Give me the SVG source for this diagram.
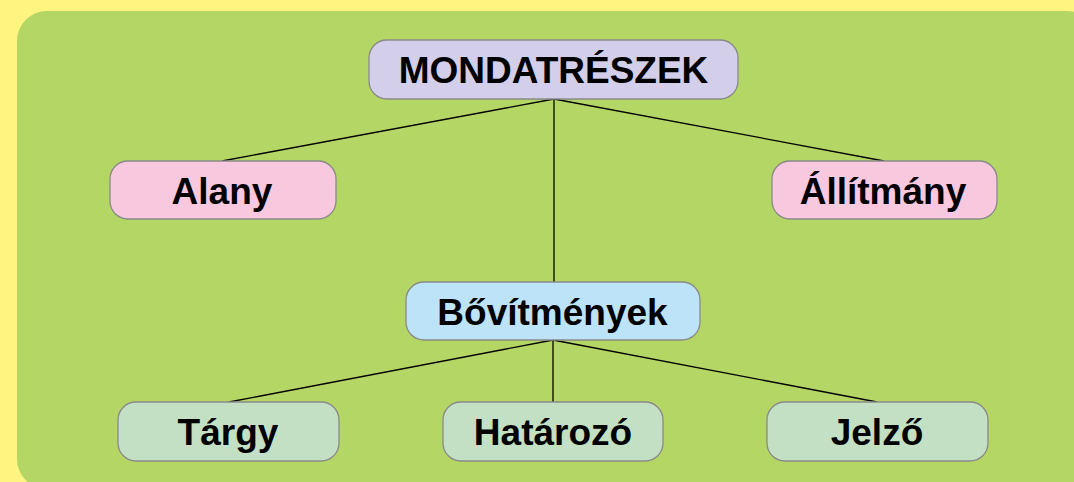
<svg xmlns="http://www.w3.org/2000/svg" width="1074" height="482" viewBox="0 0 1074 482">
<style>
.box{stroke:#8a8a8a;stroke-width:1.3}
.t{font-family:"Liberation Sans",Arial,sans-serif;font-weight:bold;font-size:37px;fill:#000;text-anchor:middle}
.c{stroke:#000;stroke-width:1.3;fill:none}
</style>
<rect x="0" y="0" width="1074" height="482" fill="#fff47f"/>
<rect x="17" y="11" width="1080" height="478" rx="30" ry="30" fill="#b4d665"/>
<g id="connectors">
<line class="c" x1="554" y1="99" x2="222" y2="161"/>
<line class="c" x1="554" y1="99" x2="884" y2="161"/>
<line class="c" x1="554" y1="99" x2="554" y2="282"/>
<line class="c" x1="553" y1="340" x2="229" y2="402"/>
<line class="c" x1="553" y1="340" x2="553" y2="402"/>
<line class="c" x1="553" y1="340" x2="877" y2="402"/>
</g>
<g id="mondatreszek">
<rect class="box" x="369" y="40" width="369" height="59" rx="18" fill="#d3cfea"/>
<text class="t" x="553.5" y="83">MONDATRÉSZEK</text>
</g>
<g id="alany">
<rect class="box" x="110" y="161" width="226" height="58" rx="18" fill="#f8c8df"/>
<text class="t" x="222" y="203.5">Alany</text>
</g>
<g id="allitmany">
<rect class="box" x="772" y="161" width="225" height="58" rx="18" fill="#f8c8df"/>
<text class="t" x="883" y="203.5">Állítmány</text>
</g>
<g id="bovitmenyek">
<rect class="box" x="406" y="282" width="294" height="58" rx="18" fill="#bde3f8"/>
<text class="t" x="552.5" y="324.5">Bővítmények</text>
</g>
<g id="targy">
<rect class="box" x="118" y="402" width="221" height="59" rx="18" fill="#c3e0c4"/>
<text class="t" x="228" y="445">Tárgy</text>
</g>
<g id="hatarozo">
<rect class="box" x="443" y="402" width="220" height="59" rx="18" fill="#c3e0c4"/>
<text class="t" x="553" y="445">Határozó</text>
</g>
<g id="jelzo">
<rect class="box" x="767" y="402" width="221" height="59" rx="18" fill="#c3e0c4"/>
<text class="t" x="877" y="445">Jelző</text>
</g>
</svg>
